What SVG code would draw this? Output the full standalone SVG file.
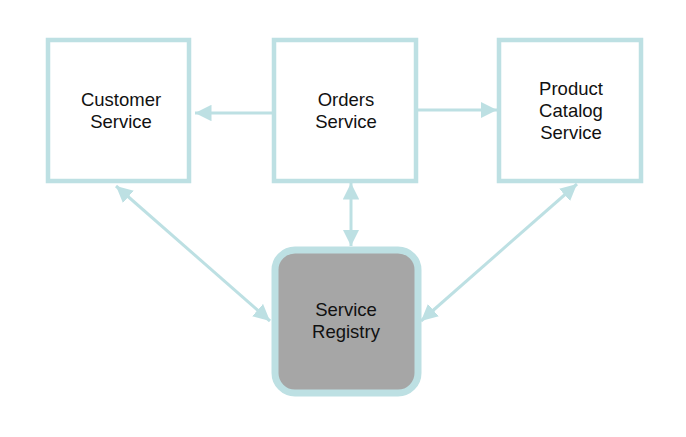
<svg xmlns="http://www.w3.org/2000/svg" width="686" height="437" viewBox="0 0 686 437">
<style>
.box{fill:#ffffff;stroke:#bde0e3;stroke-width:4.5}
.reg{fill:#a6a6a6;stroke:#bde0e3;stroke-width:7}
.lbl{font-family:"Liberation Sans",Arial,sans-serif;font-size:18.5px;fill:#111111;text-anchor:middle}
.conn{stroke:#bde0e3;stroke-width:3;fill:none}
</style>
<defs>
<marker id="ah" viewBox="0 0 10 10" refX="10" refY="5" markerWidth="5.5" markerHeight="5.5" orient="auto-start-reverse" markerUnits="strokeWidth">
<path d="M0,0 L10,5 L0,10 Z" fill="#bde0e3"/>
</marker>
</defs>
<rect width="686" height="437" fill="#ffffff"/>
<g id="connectors">
<line class="conn" x1="272" y1="113" x2="195" y2="113" marker-end="url(#ah)"/>
<line class="conn" x1="418" y1="110" x2="497" y2="110" marker-end="url(#ah)"/>
<line class="conn" x1="351" y1="183" x2="351" y2="246" marker-start="url(#ah)" marker-end="url(#ah)"/>
<line class="conn" x1="116" y1="186" x2="270" y2="321" marker-start="url(#ah)" marker-end="url(#ah)"/>
<line class="conn" x1="577" y1="184" x2="421" y2="321" marker-start="url(#ah)" marker-end="url(#ah)"/>
</g>
<g id="customer-service">
<rect class="box" x="48" y="40" width="141" height="141"/>
<text class="lbl" x="121" y="106">Customer</text>
<text class="lbl" x="121" y="128">Service</text>
</g>
<g id="orders-service">
<rect class="box" x="274" y="40" width="142" height="141"/>
<text class="lbl" x="346" y="106">Orders</text>
<text class="lbl" x="346" y="128">Service</text>
</g>
<g id="product-catalog-service">
<rect class="box" x="499" y="40" width="142" height="141"/>
<text class="lbl" x="571" y="95">Product</text>
<text class="lbl" x="571" y="117">Catalog</text>
<text class="lbl" x="571" y="139">Service</text>
</g>
<g id="service-registry">
<rect class="reg" x="275" y="250" width="143" height="143" rx="20" ry="20"/>
<text class="lbl" x="346" y="316">Service</text>
<text class="lbl" x="346" y="338">Registry</text>
</g>
</svg>
